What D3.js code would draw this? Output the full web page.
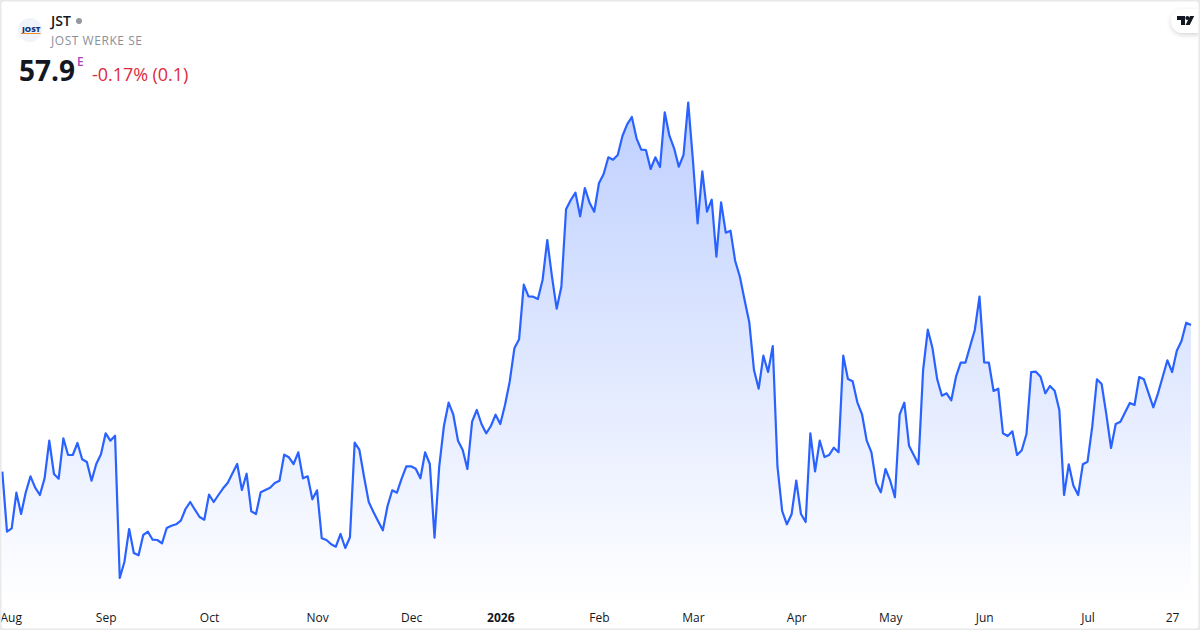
<!DOCTYPE html>
<html>
<head>
<meta charset="utf-8">
<title>JST</title>
<script src="https://cdn.jsdelivr.net/npm/d3@7"></script>
<style>
  html, body { margin: 0; padding: 0; background: #fff; }
  #chart { width: 1200px; height: 630px; }
  svg { display: block; font-family: "Open Sans", sans-serif; }
</style>
</head>
<body>
<div id="chart"></div>
<script>
const symbol = 'JST';
const companyName = 'JOST WERKE SE';
const lastPrice = '57.9';
const priceChange = '-0.17% (0.1)';

const tickIndex = [1.8, 22, 44, 67, 87, 106, 127, 147, 169, 189, 209, 231, 249];
const tickLabels = ['Aug', 'Sep', 'Oct', 'Nov', 'Dec', '2026', 'Feb', 'Mar', 'Apr', 'May', 'Jun', 'Jul', '27'];

// closing values, one per trading day
const closesAug25toDec25 = [
  43.23, 37.23, 37.57, 41.13, 39, 41.17, 42.77, 41.63, 40.9, 42.57, 46.33, 43, 42.53, 46.57, 44.9, 44.9,
  46.1, 44.47, 44.2, 42.33, 44, 44.97, 47.07, 46.33, 46.83, 32.6, 34.23, 37.5, 35.1, 34.87, 36.9, 37.23,
  36.43, 36.4, 36.07, 37.6, 37.83, 37.97, 38.33, 39.5, 40.2, 39.43, 38.7, 38.43, 40.93, 40.2, 40.9, 41.57,
  42.13, 43.07, 44, 41.4, 43.03, 39.27, 39, 41.17, 41.4, 41.63, 42.1, 42.33, 44.93, 44.67, 44, 45.17,
  42.57, 42.77, 40.47, 41.37, 36.57, 36.4, 35.97, 35.73, 37, 35.6, 36.67, 46.13, 45.43, 42.73, 40.2, 39.2,
  38.27, 37.37, 39.8, 41.37, 41.13, 42.53, 43.77, 43.77, 43.53, 42.57, 45.17, 44, 36.63, 43.73, 47.8, 50.13,
  48.93, 46.33, 45.4, 43.5, 48.23, 49.4, 48, 47.07, 47.8, 48.93, 48, 49.9, 52.23
];
const closesJan26toMar26 = [
  55.57, 56.47, 61.93, 60.77, 60.73, 60.5, 62.4, 66.4, 62.73, 59.53, 61.73, 69.47, 70.4, 71.13, 68.77, 71.6,
  70.13, 69.23, 72.07, 73, 74.67, 74.43, 74.9, 76.8, 77.97, 78.7, 76.57, 75.43, 75.4, 73.5, 74.67, 73.7,
  79.17, 76.83, 75.57, 73.73, 74.9, 80.13, 74.4, 68.07, 73.27, 69.23, 70.43, 64.73, 70.17, 67.13, 67.33, 64.3,
  62.73, 60.4, 58.17
];
const closesMar26toJul26 = [
  53.4, 51.53, 54.83, 53.2, 55.8, 43.73, 39.3, 37.97, 38.97, 42.33, 39, 38.2, 47.07, 43.27, 46.33, 44.7,
  44.9, 45.63, 45.17, 54.83, 52.5, 52.27, 50.17, 48.97, 46.33, 45.17, 42.13, 41.17, 43.5, 42.33, 40.67, 48.93,
  50.13, 45.83, 44.9, 43.97, 53.4, 57.43, 55.57, 52.47, 50.83, 51.07, 50.37, 52.73, 54.13, 54.13, 55.77, 57.4,
  60.73, 54.17, 54.13, 51.3, 51.53, 47.07, 46.8, 47.27, 44.9, 45.37, 47, 53.2, 53.23, 52.73, 51.07, 51.8,
  51.33, 49.4, 40.9, 43.97, 41.83, 40.9, 43.97, 44.23, 47.73, 52.47, 52, 48.97, 45.6, 48, 48.23, 49.17,
  50.1, 49.9, 52.7, 52.47, 51.07, 49.67, 51.07, 52.73, 54.37, 53.2, 55.33, 56.3, 58.13, 57.9
];
const closes = [...closesAug25toDec25, ...closesJan26toMar26, ...closesMar26toJul26];

const width = 1200;
const height = 630;

const svg = d3.select('#chart').append('svg')
  .attr('width', width)
  .attr('height', height);

const xScale = d3.scaleLinear()
  .domain([0, closes.length - 1])
  .range([2.3, 1190.9]);

const yScale = d3.scaleLinear()
  .domain([30.4, 80.4])
  .range([600, 100]);

const defs = svg.append('defs');

const gradient = defs.append('linearGradient')
  .attr('id', 'area-fill')
  .attr('gradientUnits', 'userSpaceOnUse')
  .attr('x1', 0).attr('x2', 0)
  .attr('y1', yScale(d3.max(closes)))
  .attr('y2', 604);
gradient.append('stop').attr('offset', 0).attr('stop-color', '#2962ff').attr('stop-opacity', 0.3);
gradient.append('stop').attr('offset', 1).attr('stop-color', '#2962ff').attr('stop-opacity', 0);

const shadow = defs.append('filter')
  .attr('id', 'pill-shadow')
  .attr('x', '-40%').attr('y', '-40%')
  .attr('width', '180%').attr('height', '200%');
shadow.append('feDropShadow')
  .attr('dx', 0).attr('dy', 2).attr('stdDeviation', 2.5)
  .attr('flood-color', '#000').attr('flood-opacity', 0.16);

// area chart
const areaGenerator = d3.area()
  .x((d, i) => xScale(i))
  .y0(604)
  .y1(d => yScale(d));

svg.append('path')
  .attr('d', areaGenerator(closes))
  .attr('fill', 'url(#area-fill)');

// line chart
const lineGenerator = d3.line()
  .x((d, i) => xScale(i))
  .y(d => yScale(d));

svg.append('path')
  .attr('d', lineGenerator(closes))
  .attr('fill', 'none')
  .attr('stroke', '#2962ff')
  .attr('stroke-width', 2.2)
  .attr('stroke-linejoin', 'round');

// time axis
const xAxisG = svg.append('g')
  .attr('transform', 'translate(0, 604)')
  .call(d3.axisBottom(xScale)
    .tickValues(tickIndex)
    .tickFormat((d, i) => tickLabels[i])
    .tickSize(0)
    .tickPadding(9));

xAxisG.select('.domain').remove();
xAxisG.selectAll('text')
  .attr('font-family', '"Open Sans", sans-serif')
  .attr('font-size', 12)
  .attr('fill', '#131722')
  .attr('font-weight', (d, i) => tickLabels[i] === '2026' ? 700 : 400);

// logo pill, top right
const pill = svg.append('g');
pill.append('path')
  .attr('d', 'M1200 9H1183a12 12 0 0 0 0 24H1200Z')
  .attr('fill', '#fff')
  .attr('filter', 'url(#pill-shadow)');
pill.append('path')
  .attr('d', 'M1177 16H1185V25H1181V20H1177Z M1190 16H1194.2L1189.7 25H1185.5Z')
  .attr('fill', '#131722');
pill.append('circle')
  .attr('cx', 1187.3).attr('cy', 18).attr('r', 2)
  .attr('fill', '#131722');

// card border
svg.append('rect')
  .attr('width', width).attr('height', height)
  .attr('rx', 4)
  .attr('fill', 'none')
  .attr('stroke', '#e9e9e9')
  .attr('stroke-width', 3);

// header
const header = svg.append('g');

header.append('circle')
  .attr('cx', 30).attr('cy', 30).attr('r', 12)
  .attr('fill', '#f0f3fa');
header.append('text')
  .attr('x', 22).attr('y', 31.7)
  .attr('font-size', 6)
  .attr('font-weight', 800)
  .attr('textLength', 18.5)
  .attr('lengthAdjust', 'spacingAndGlyphs')
  .attr('fill', '#12357f')
  .text('JOST');
header.append('rect')
  .attr('x', 22).attr('y', 33)
  .attr('width', 18.5).attr('height', 1)
  .attr('fill', '#f08a24');

header.append('text')
  .attr('x', 51).attr('y', 26)
  .attr('font-size', 14)
  .attr('font-weight', 600)
  .attr('fill', '#131722')
  .text(symbol);
header.append('circle')
  .attr('cx', 79).attr('cy', 21).attr('r', 3)
  .attr('fill', '#9598a1');
header.append('text')
  .attr('x', 51).attr('y', 45)
  .attr('font-size', 12)
  .attr('letter-spacing', 0.55)
  .attr('fill', '#8c8f98')
  .text(companyName);

header.append('text')
  .attr('x', 19).attr('y', 81)
  .attr('font-size', 28)
  .attr('font-weight', 700)
  .attr('fill', '#131722')
  .text(lastPrice);
header.append('text')
  .attr('x', 77).attr('y', 66)
  .attr('font-size', 12)
  .attr('font-weight', 600)
  .attr('fill', '#ab47bc')
  .text('E');
header.append('text')
  .attr('x', 92).attr('y', 81)
  .attr('font-size', 18)
  .attr('letter-spacing', -0.05)
  .attr('fill', '#dd2a40')
  .text(priceChange);
</script>
</body>
</html>
